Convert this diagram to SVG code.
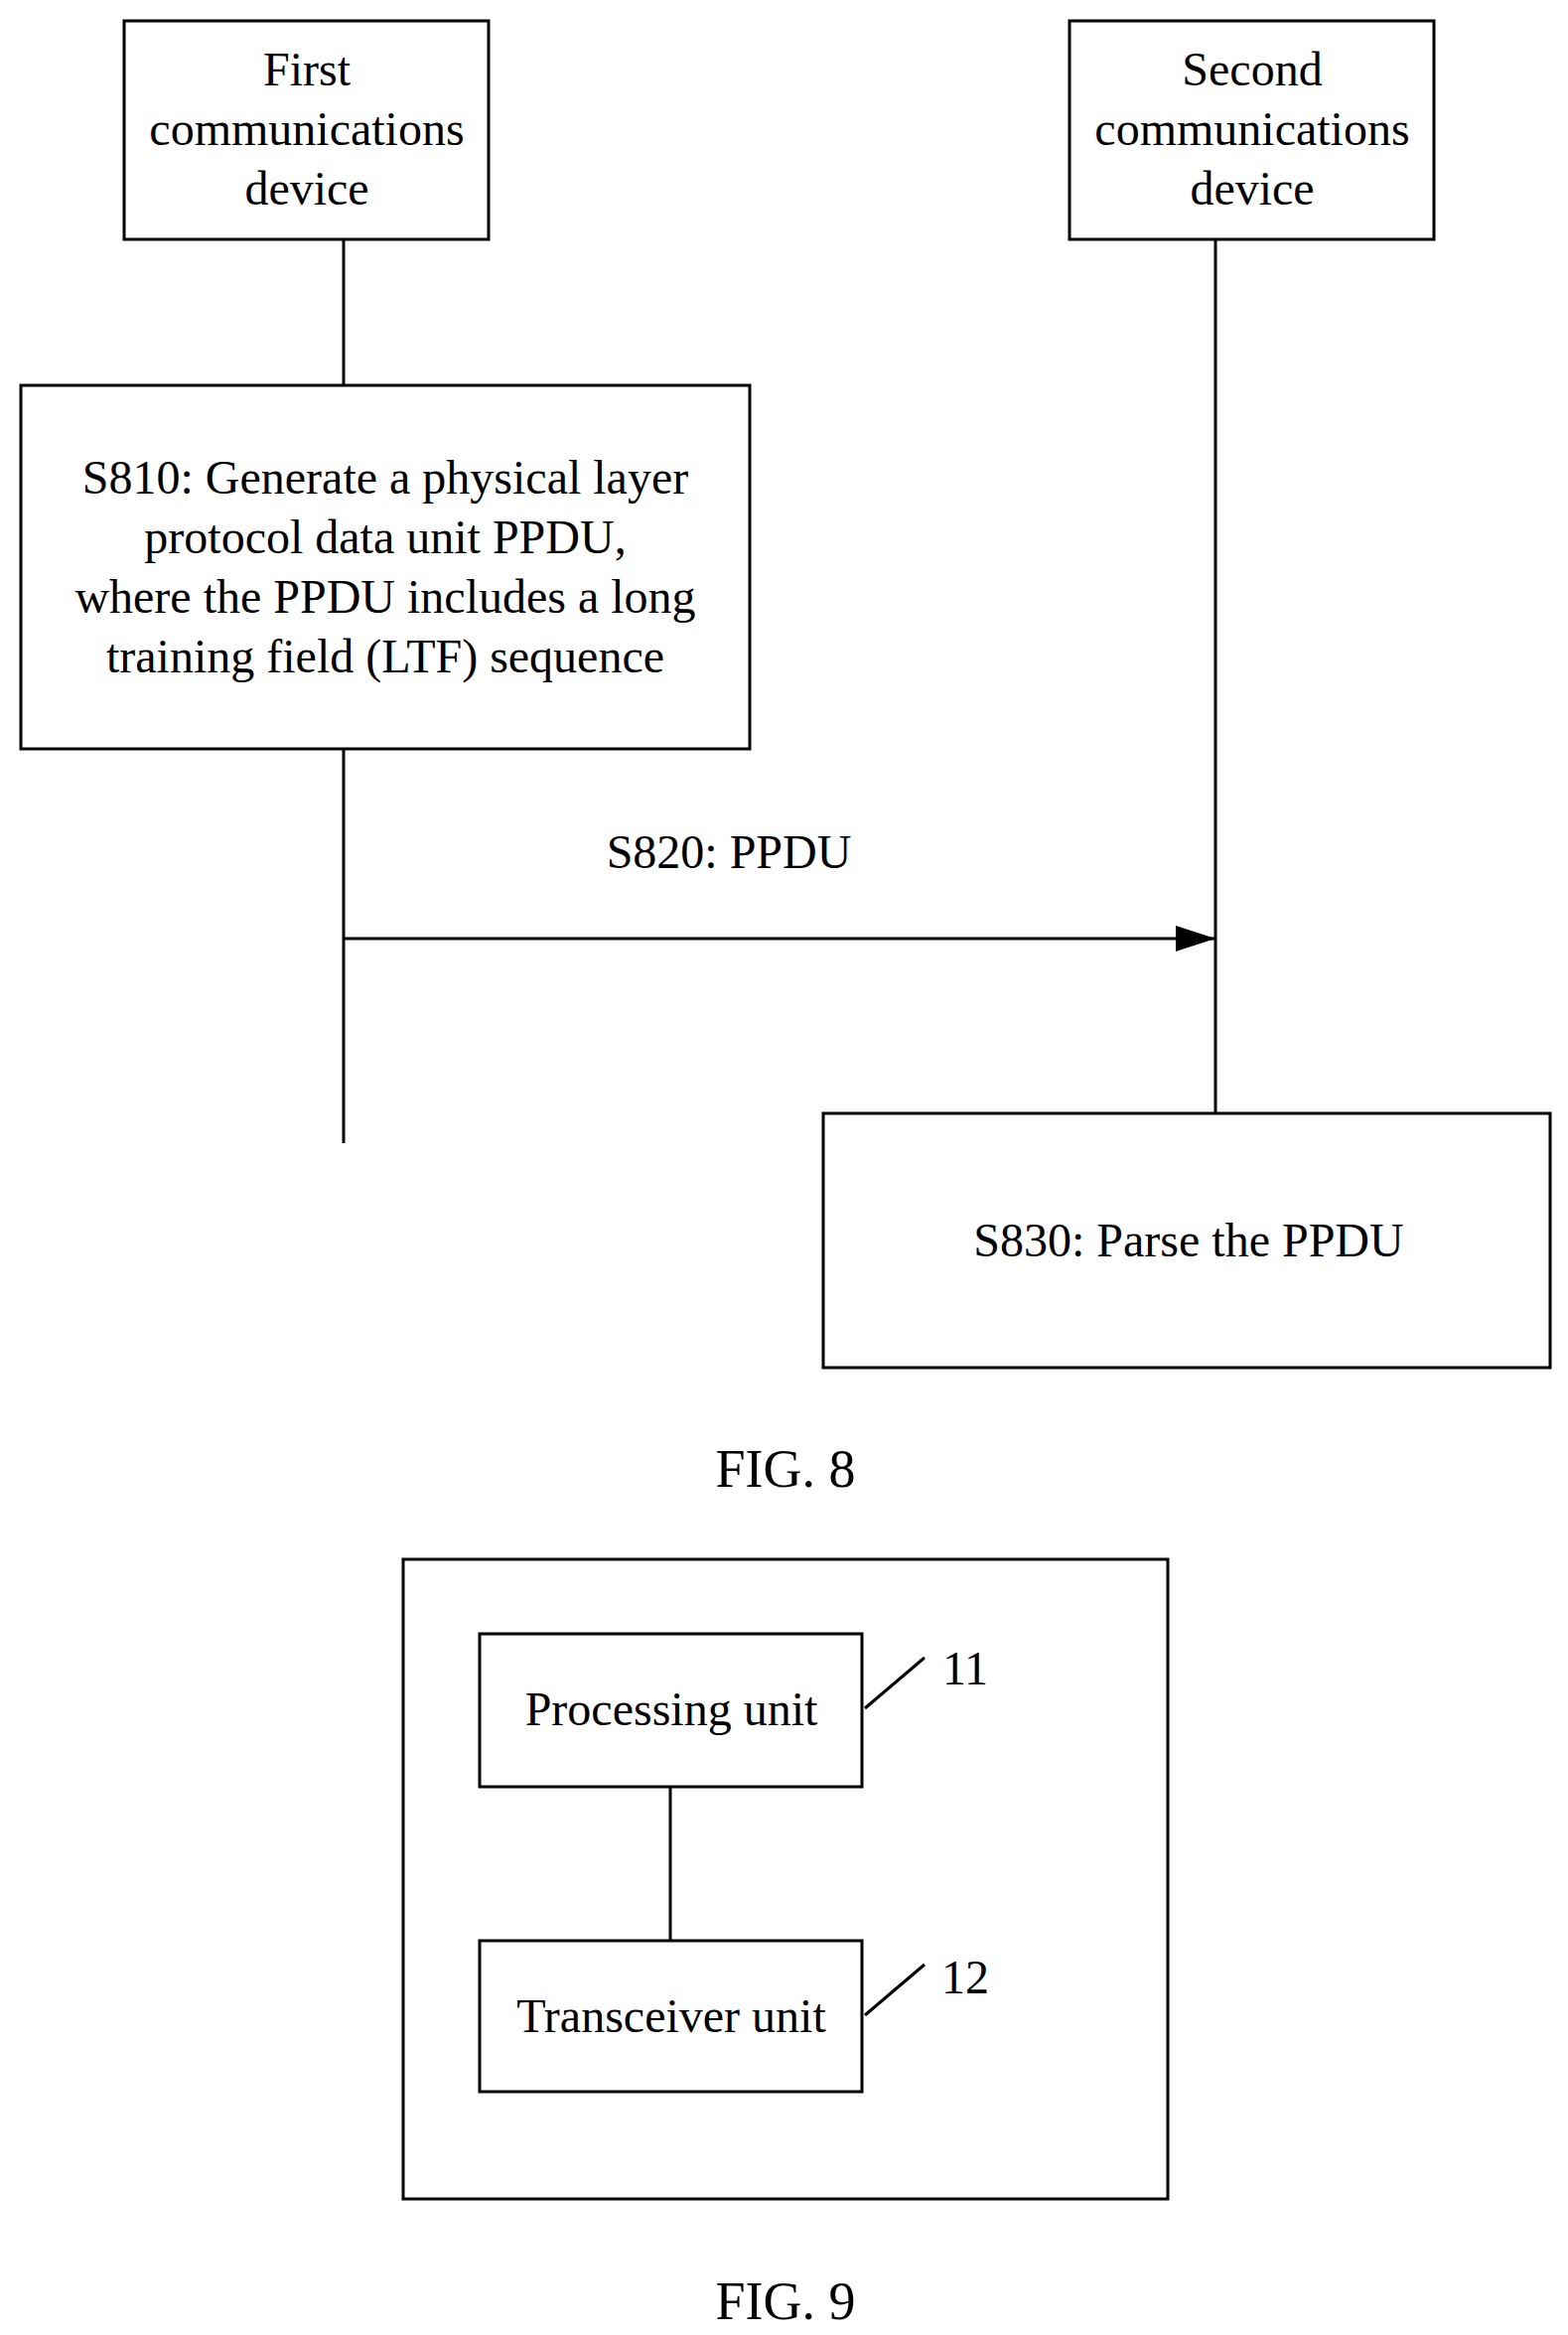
<svg xmlns="http://www.w3.org/2000/svg" width="1579" height="2351" viewBox="0 0 1579 2351">
<style>
.b{fill:#fff;stroke:#000;stroke-width:3}
.o{fill:none;stroke:#000;stroke-width:3}
.l{stroke:#000;stroke-width:3;fill:none}
text{font-family:"Liberation Serif","Times New Roman",serif;font-size:48px;fill:#000;text-anchor:middle}
.f{font-size:54px}
</style>
<defs>
<marker id="ah" viewBox="0 0 40 26" markerWidth="40" markerHeight="26" refX="40" refY="13" orient="auto" markerUnits="userSpaceOnUse"><path d="M0,0L40,13L0,26z"/></marker></defs>
<rect width="1579" height="2351" fill="#fff"/>
<g id="first"><rect class="b" x="125" y="21" width="367" height="220"/>
<text x="309" y="86">First</text><text x="309" y="146">communications</text><text x="309" y="206">device</text></g>
<g id="second"><rect class="b" x="1077" y="21" width="367" height="220"/>
<text x="1261" y="86">Second</text><text x="1261" y="146">communications</text><text x="1261" y="206">device</text></g>
<g id="s810"><rect class="b" x="21" y="388" width="734" height="366"/>
<text x="388" y="497">S810: Generate a physical layer</text>
<text x="388" y="557">protocol data unit PPDU,</text>
<text x="388" y="617">where the PPDU includes a long</text>
<text x="388" y="677">training field (LTF) sequence</text></g>
<g id="s830"><rect class="b" x="829" y="1121" width="732" height="256"/>
<text x="1197" y="1265">S830: Parse the PPDU</text></g>
<text class="f" x="791" y="1497">FIG. 8</text>
<g id="device"><rect class="o" x="406" y="1570" width="770" height="644"/></g>
<g id="proc"><rect class="b" x="483" y="1645" width="385" height="154"/>
<text x="676" y="1737">Processing unit</text><text x="972" y="1696">11</text></g>
<g id="trans"><rect class="b" x="483" y="1954" width="385" height="152"/>
<text x="676" y="2046">Transceiver unit</text><text x="972" y="2007">12</text></g>
<text class="f" x="791" y="2335">FIG. 9</text>
<g id="connectors">
<line class="l" x1="346" y1="241" x2="346" y2="388"/>
<line class="l" x1="346" y1="754" x2="346" y2="1151"/>
<line class="l" x1="1224" y1="241" x2="1224" y2="1121"/>
<line class="l" x1="346" y1="945" x2="1224" y2="945" marker-end="url(#ah)"/>
<text x="734" y="874">S820: PPDU</text>
<line class="l" x1="675" y1="1799" x2="675" y2="1954"/>
<line class="l" x1="871" y1="1720" x2="931" y2="1669"/>
<line class="l" x1="871" y1="2029" x2="931" y2="1978"/>
</g>
</svg>
